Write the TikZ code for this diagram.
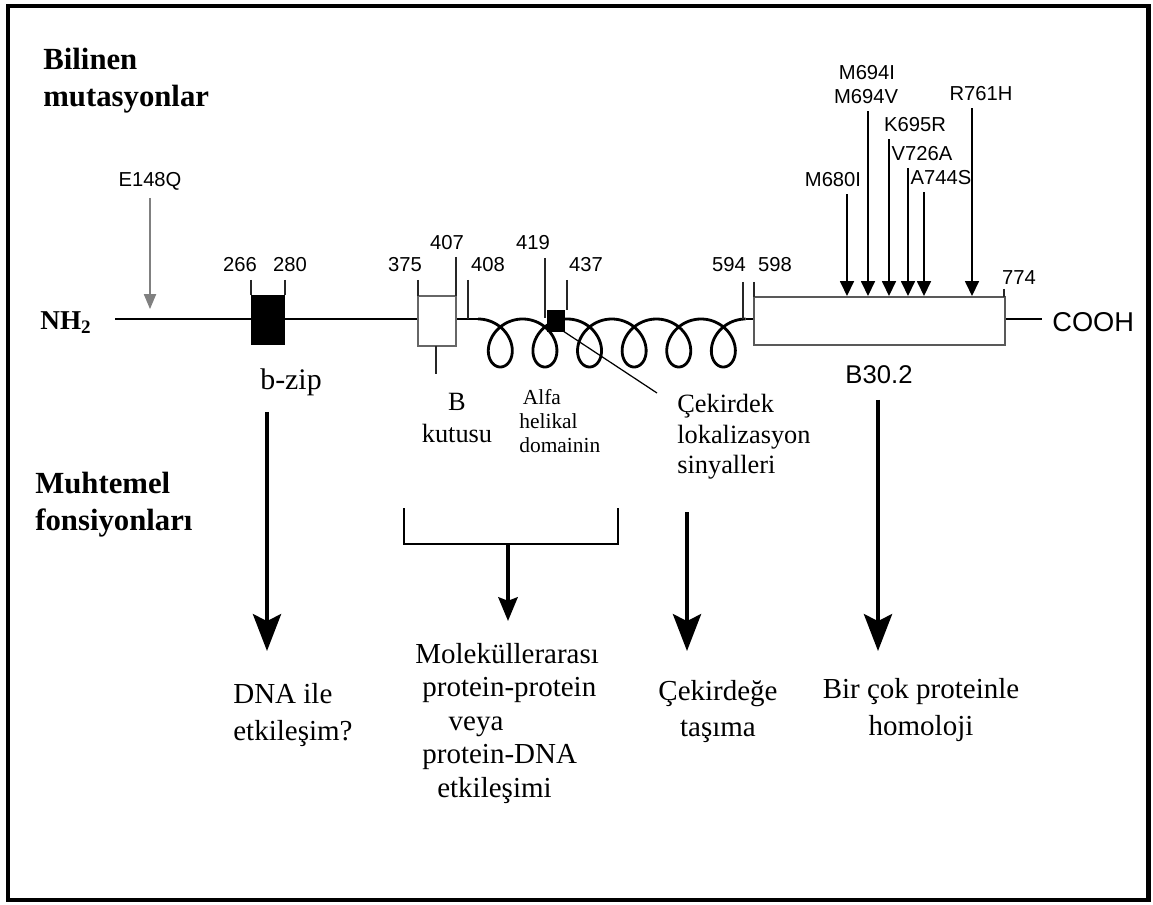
\documentclass[tikz,border=0pt]{standalone}
\usepackage{fontspec}
\setmainfont{Liberation Serif}
\setsansfont{Liberation Sans}
\usetikzlibrary{arrows.meta,positioning}

\begin{document}
\begin{tikzpicture}[x=0.02cm, y=-0.02cm,
  lab/.style={font=\sffamily\fontsize{11.5}{13}\selectfont, inner sep=0pt, outer sep=4pt},
  tick/.style={black!85, line width=0.7pt},
  backbone/.style={line width=1.15pt},
  mutarr/.style={line width=0.8pt, -{Triangle[length=8.5pt,width=8pt]}},
  bigarr/.style={line width=2.3pt, -{Stealth[length=21pt,width=16pt,inset=4pt]}},
  head/.style={font=\bfseries\fontsize{17.5}{21.5}\selectfont, align=left, inner sep=0pt, anchor=base west},
  txt/.style={font=\fontsize{16.5}{19.2}\selectfont, inner sep=0pt, anchor=base}]

\useasboundingbox (0,0) rectangle (1153,905);

%--- Cerceve ---
\draw[line width=2.3pt] (8,6) rectangle (1148.5,900);

%--- Basliklar (base = son satir) ---
\node[head] (bilinen) at (43,107) {Bilinen\\mutasyonlar};
\node[head, font=\bfseries\fontsize{17.5}{20.5}\selectfont] (muhtemel) at (35,530) {Muhtemel\\fonsiyonları};

%--- Omurga ---
\draw[backbone] (115,319) -- (418,319);
\draw[backbone] (456,319) -- (478,319);
\draw[backbone] (745.7,319) -- (754,319);
\draw[backbone] (1005,319) -- (1042,319);

%--- Heliks ---
\draw[line width=1.6pt, domain=3.14159:40.8407, samples=420]
  plot ({478+7.1*(\x-3.14159)-22*sin(\x r)}, {343+24*cos(\x r)});

%--- Kutular ---
\fill (251,295) rectangle (285,345);
\draw[gray!80!black, line width=0.8pt, fill=white] (418,296) rectangle (456,346);
\fill (547,310) rectangle (565,332);
\draw[black!65, line width=1.1pt, fill=white] (754,297) rectangle (1005,345);

%--- Cizgiler ---
\draw[tick] (251,280) -- (251,295);
\draw[tick] (285,280) -- (285,295);
\draw[tick] (418,280) -- (418,296);
\draw[tick] (456,257) -- (456,296);
\draw[tick] (468,280) -- (468,319);
\draw[tick] (436,346) -- (436,374);
\draw[tick] (545,258) -- (545,318);
\draw[tick] (567,280) -- (567,310);
\draw[tick] (743,282) -- (743,319);
\draw[tick] (754,282) -- (754,297);
\draw[tick] (1004,289) -- (1004,297);
\draw[line width=0.7pt] (563,331) -- (657,393);

%--- Numaralar ---
\foreach \xp/\yp/\lab in {240/272/266, 290/272/280, 405/272/375, 447/250/407,
  488/272/408, 533/250/419, 586/272/437, 729/272/594, 775/272/598, 1019/285/774}
  \node[lab, anchor=base] (n\lab) at (\xp,\yp) {\lab};

\node[font=\bfseries\fontsize{15.5}{18}\selectfont, anchor=base west, inner sep=0pt]
  (nh2) at (40,330) {NH\textsubscript{2}};
\node[font=\sffamily\fontsize{15.5}{18}\selectfont, anchor=base west, inner sep=0pt]
  (cooh) at (1052,332) {COOH};

%--- Mutasyonlar ---
\node[lab, anchor=base] (e148q) at (150,187) {E148Q};
\node[lab, anchor=base] (m680) at (833,187) {M680I};
\node[lab, anchor=base] (m694i) at (867,80) {M694I};
\node[lab, anchor=base] (m694v) at (866,104) {M694V};
\node[lab, anchor=base] (k695) at (915,132) {K695R};
\node[lab, anchor=base] (v726) at (922,161) {V726A};
\node[lab, anchor=base] (a744) at (941,185) {A744S};
\node[lab, anchor=base] (r761) at (981,101) {R761H};

\coordinate (p148) at (150,309);
\coordinate (p680) at (847,296);
\coordinate (p694) at (868,296);
\coordinate (p695) at (889,296);
\coordinate (p726) at (908,296);
\coordinate (p744) at (924,296);
\coordinate (p761) at (972,296);

\draw[gray, line width=0.6pt, -{Triangle[length=8.5pt,width=7pt]}] (e148q) -- (p148);
\draw[mutarr] (m680.south -| p680) -- (p680);
\draw[mutarr] (m694v.south -| p694) -- (p694);
\draw[mutarr] (k695.south -| p695) -- (p695);
\draw[mutarr] (v726.south -| p726) -- (p726);
\draw[mutarr] (a744.south -| p744) -- (p744);
\draw[mutarr] (r761.south -| p761) -- (p761);

%--- Bolge adlari ---
\node[font=\fontsize{17}{20}\selectfont, anchor=base, inner sep=0pt] (bzip) at (291,390) {b-zip};
\node[font=\fontsize{15}{18.2}\selectfont, align=center, anchor=base, inner sep=0pt]
  (bkutu) at (457,442) {B\\kutusu};
\node[font=\fontsize{12.2}{13.8}\selectfont, align=left, anchor=base west, inner sep=0pt]
  (alfa) at (519,453) {\hspace*{2pt}Alfa\\helikal\\domainin};
\node[font=\fontsize{15}{17.6}\selectfont, align=left, anchor=base west, inner sep=0pt]
  (cekirdek) at (677,474) {Çekirdek\\lokalizasyon\\sinyalleri};
\node[font=\sffamily\fontsize{14.6}{17}\selectfont, anchor=base, inner sep=0pt]
  (b302) at (879,384) {B30.2};

%--- Parantez ---
\coordinate (brl) at (404,508);
\coordinate (brr) at (618,508);
\coordinate (brm) at (508,544);
\coordinate (brt) at (508,621);
\draw[line width=1.3pt] (brl) |- (brm) -| (brr);
\draw[line width=2pt, -{Stealth[length=13.5pt,width=11pt,inset=2pt]}] (brm) -- (brt);

%--- Islev oklari ---
\coordinate (f1s) at (267,412);  \coordinate (f1e) at (267,651);
\coordinate (f3s) at (687,512);  \coordinate (f3e) at (687,651);
\coordinate (f4s) at (878,400);  \coordinate (f4e) at (878,651);
\draw[bigarr] (f1s) -- (f1e);
\draw[bigarr] (f3s) -- (f3e);
\draw[bigarr] (f4s) -- (f4e);

%--- Islevler ---
\node[txt, font=\fontsize{16.5}{21}\selectfont, align=left, anchor=base west]
  (dna) at (233,740) {DNA ile\\etkileşim?};
\node[txt, font=\fontsize{16.5}{19}\selectfont, align=left, anchor=base west]
  (molek) at (415,797) {Moleküllerarası\\\hspace*{4pt}protein-protein\\\hspace*{19pt}veya\\
  \hspace*{4pt}protein-DNA\\\hspace*{12.5pt}etkileşimi};
\node[txt, font=\fontsize{16.5}{20}\selectfont, align=center]
  (tasima) at (718,736) {Çekirdeğe\\taşıma};
\node[txt, font=\fontsize{16.5}{21}\selectfont, align=center]
  (homoloji) at (921,735) {Bir çok proteinle\\homoloji};

\end{tikzpicture}
\end{document}
